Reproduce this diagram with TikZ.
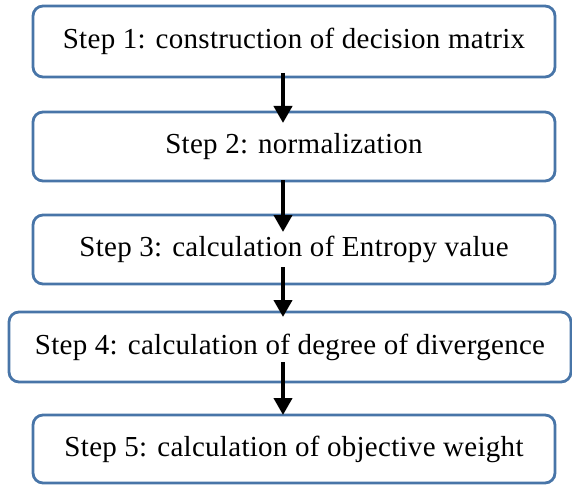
\documentclass[tikz,border=0pt]{standalone}
\usepackage{fontspec}
\setmainfont{Liberation Serif}[LetterSpace=1]
\usetikzlibrary{arrows.meta}
\definecolor{boxblue}{RGB}{72,117,168}
\begin{document}
\begin{tikzpicture}[x=1pt,y=1pt,
  stepbox/.style={draw=boxblue, line width=2.8pt, rounded corners=10pt, rectangle,
    inner sep=0pt, outer sep=0pt, fill=white, font=\fontsize{29}{33}\selectfont},
  arr/.style={line width=4pt, black, -{Triangle[width=18pt,length=17pt]}}]
\useasboundingbox (0,0) rectangle (572,-484);
\node[stepbox, minimum width=522pt, minimum height=71pt] (b1) at (294,-41.5) {Step 1: construction of decision matrix};
\node[stepbox, minimum width=522pt, minimum height=69pt] (b2) at (294,-146.5) {Step 2: normalization};
\node[stepbox, minimum width=522pt, minimum height=69pt] (b3) at (294,-249.5) {Step 3: calculation of Entropy value};
\node[stepbox, minimum width=562pt, minimum height=70pt] (b4) at (290,-347) {Step 4: calculation of degree of divergence};
\node[stepbox, minimum width=522pt, minimum height=68pt] (b5) at (294,-449) {Step 5: calculation of objective weight};
\draw[arr] ([xshift=-11pt,yshift=4pt]b1.south) -- ([xshift=-11pt,yshift=-11pt]b2.north);
\draw[arr] ([xshift=-11pt,yshift=1pt]b2.south) -- ([xshift=-11pt,yshift=-17pt]b3.north);
\draw[arr] ([xshift=-11pt,yshift=17pt]b3.south) -- ([xshift=-7pt,yshift=-5pt]b4.north);
\draw[arr] ([xshift=-7pt,yshift=20pt]b4.south) -- ([xshift=-11pt,yshift=0pt]b5.north);
\end{tikzpicture}
\end{document}
